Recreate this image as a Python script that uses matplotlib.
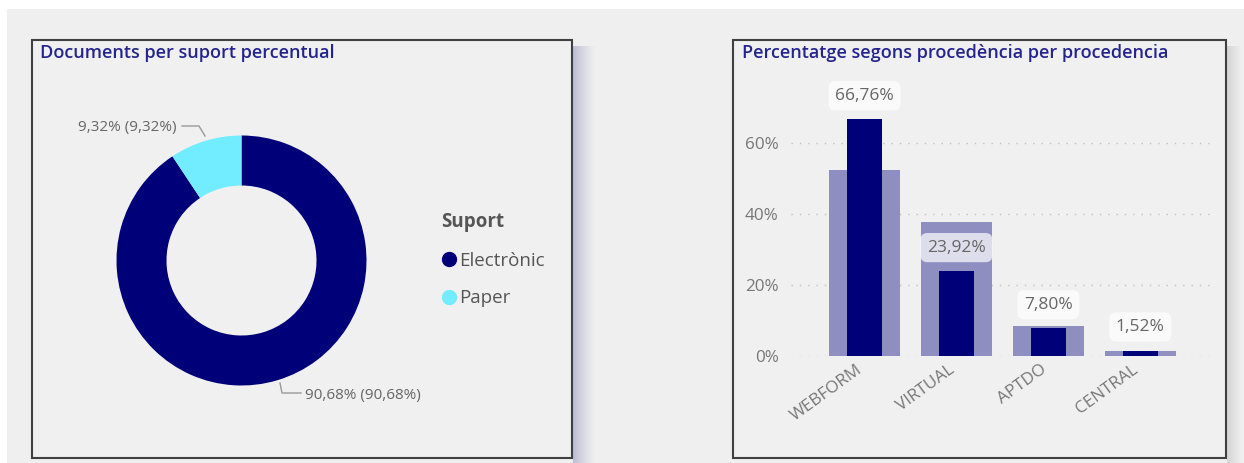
import numpy as np
import matplotlib
matplotlib.use("Agg")
import matplotlib.pyplot as plt
import matplotlib.transforms as mtransforms
from matplotlib.patches import Rectangle
from matplotlib.lines import Line2D

plt.rcParams['font.family'] = ['Open Sans', 'DejaVu Sans']

# donut data
suport = ['Electrònic', 'Paper']
suport_pct = [90.68, 9.32]
suport_colors = ['#000078', '#72ecff']

# bar data
procedencia = ['WEBFORM', 'VIRTUAL', 'APTDO', 'CENTRAL']
pct_proc = [66.76, 23.92, 7.80, 1.52]
pct_back = [52.5, 37.9, 8.5, 1.4]
yticks = [0, 20, 40, 60]

W, H = 1244, 463
fig = plt.figure(figsize=(W / 100, H / 100), dpi=100)
fig.patch.set_facecolor('white')


def box(x0, y0, x1, y1):
    # pixel box (top-left origin) -> figure fraction rect
    return [x0 / W, 1 - y1 / H, (x1 - x0) / W, (y1 - y0) / H]


def fx(x):
    return x / W


def fy(y):
    return 1 - y / H


# page background
fig.patches.append(Rectangle((fx(7), 0), 1, fy(9), transform=fig.transFigure,
                             facecolor='#efefef', edgecolor='none', zorder=-10))

# shadows
for i in range(22):
    a = 0.55 * (1 - i / 22) ** 1.3
    fig.patches.append(Rectangle((fx(573 + i), 0), 1 / W, fy(46), transform=fig.transFigure,
                                 facecolor='#9393bd', alpha=a, edgecolor='none', zorder=-9))
for i in range(14):
    a = 0.25 * (1 - i / 14)
    fig.patches.append(Rectangle((fx(1227 + i), 0), 1 / W, fy(46), transform=fig.transFigure,
                                 facecolor='#888888', alpha=a, edgecolor='none', zorder=-9))

# panels
for x0, x1 in [(32, 572), (733, 1226)]:
    r = box(x0, 40, x1, 458)
    fig.patches.append(Rectangle((r[0], r[1]), r[2], r[3], transform=fig.transFigure,
                                 facecolor='#f0f0f0', edgecolor='#404040', lw=1.5, zorder=-8))

title_color = '#24248f'
fig.text(fx(40), fy(53), 'Documents per suport percentual', color=title_color,
         fontsize=13, fontweight='semibold', va='center', ha='left')
fig.text(fx(742), fy(53), 'Percentatge segons procedència per procedencia', color=title_color,
         fontsize=13, fontweight='semibold', va='center', ha='left')

# ---- donut ----
cx, cy, R = 241.5, 260.5, 125
ax1 = fig.add_axes(box(cx - 1.5 * R, cy - 1.5 * R, cx + 1.5 * R, cy + 1.5 * R))
ax1.pie(suport_pct, colors=suport_colors, startangle=90, counterclock=False,
        radius=1, wedgeprops=dict(width=0.4, edgecolor='none'))
ax1.set_xlim(-1.5, 1.5)
ax1.set_ylim(-1.5, 1.5)
ax1.set_aspect('equal')
ax1.axis('off')


def d(px, py):
    return ((px - cx) / R, -(py - cy) / R)


lab_col = '#666666'
line_col = '#999999'
# Paper label
p = [d(182, 126), d(199, 126), d(205, 136)]
ax1.plot([q[0] for q in p], [q[1] for q in p], color=line_col, lw=1, clip_on=False)
t = d(177, 127)
ax1.text(t[0], t[1], f'{suport_pct[1]:.2f}% ({suport_pct[1]:.2f}%)'.replace('.', ','),
         ha='right', va='center', fontsize=11, color=lab_col, clip_on=False)
# Electrònic label
p = [d(280, 383), d(282, 393), d(301, 393)]
ax1.plot([q[0] for q in p], [q[1] for q in p], color=line_col, lw=1, clip_on=False)
t = d(305, 395)
ax1.text(t[0], t[1], f'{suport_pct[0]:.2f}% ({suport_pct[0]:.2f}%)'.replace('.', ','),
         ha='left', va='center', fontsize=11, color=lab_col, clip_on=False)

handles = [Line2D([], [], marker='o', ls='none', markersize=10, color=c) for c in suport_colors]
leg = fig.legend(handles, suport, title='Suport', loc='upper left',
                 bbox_to_anchor=(fx(441), fy(212)), frameon=False, fontsize=13.5,
                 handletextpad=0.15, labelspacing=1.05, alignment='left',
                 handlelength=0.8, borderaxespad=0, borderpad=0)
leg.get_title().set_fontsize(13.5)
leg.get_title().set_fontweight('bold')
leg.get_title().set_color('#555555')
for txt in leg.get_texts():
    txt.set_color('#555555')

# ---- bars ----
ax2 = fig.add_axes(box(791, 356 - 79 * 3.545, 1212, 356))
ax2.set_facecolor('none')
x = np.arange(len(procedencia))
ax2.bar(x, pct_back, width=0.77, color='#8e8ec0', zorder=2)
ax2.bar(x, pct_proc, width=0.38, color='#000078', zorder=3)
ax2.set_xlim(-0.8, 3.78)
ax2.set_ylim(0, 79)
ax2.set_yticks(yticks)
ax2.set_yticklabels([f'{v}%' for v in yticks])
ax2.set_xticks(x)
ax2.set_xticklabels(procedencia, rotation=36, ha='right', rotation_mode='anchor')
ax2.tick_params(axis='both', length=0, colors='#777777', labelsize=12.3)
ax2.tick_params(axis='y', pad=9)
ax2.tick_params(axis='x', pad=4)
shift = mtransforms.ScaledTranslation(-6 / 72, 0, fig.dpi_scale_trans)
for lbl in ax2.get_xticklabels():
    lbl.set_transform(lbl.get_transform() + shift)
for s in ax2.spines.values():
    s.set_visible(False)
ax2.grid(axis='y', color='#c0c0c0', linestyle=(0, (1, 5)), lw=1, zorder=1)
ax2.set_axisbelow(True)
for xi, v in zip(x, pct_proc):
    ax2.annotate(f'{v:.2f}%'.replace('.', ','), (xi, v), xytext=(0, 17),
                 textcoords='offset points', ha='center', va='center',
                 fontsize=12.5, color='#666666', zorder=5,
                 bbox=dict(boxstyle='round,pad=0.38,rounding_size=0.4',
                           fc='white', ec='none', alpha=0.7))

fig.savefig('out.png', dpi=100, facecolor=fig.get_facecolor())
